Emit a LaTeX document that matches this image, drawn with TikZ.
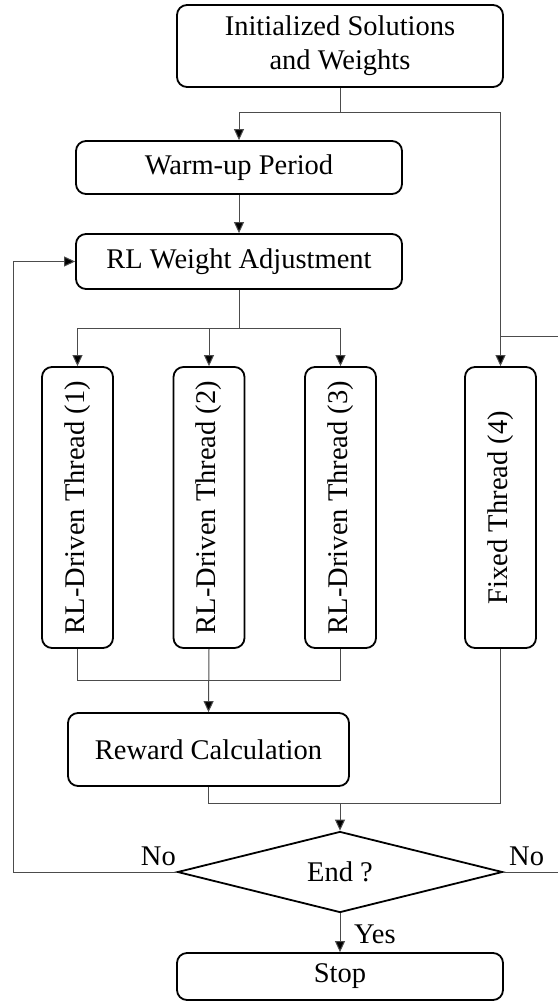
\documentclass[tikz,border=0pt]{standalone}
\usepackage{fontspec}
\setmainfont{Liberation Serif}
\usetikzlibrary{arrows.meta,shapes.geometric}

\tikzset{
  x=1pt, y=-1pt,
  box/.style={draw=black, line width=1.8pt, rounded corners=10pt, fill=white,
    inner sep=0pt, align=center, font=\fontsize{28.5}{34}\selectfont},
  vbox/.style={box, minimum width=71pt, minimum height=281pt},
  decision/.style={diamond, draw=black, line width=1.8pt, aspect=4, inner sep=0pt,
    minimum width=325pt, minimum height=81pt, font=\fontsize{28.5}{34}\selectfont},
  link/.style={draw=black!70, line width=1pt},
  flow/.style={link, -{Triangle[length=11pt,width=10pt,fill=black]}},
  lbl/.style={inner sep=0pt, font=\fontsize{28.5}{34}\selectfont}
}

\begin{document}
\begin{tikzpicture}
\useasboundingbox (0,0) rectangle (557,1003);

% process boxes
\node[box, minimum width=326pt, minimum height=82pt] (init) at (340,46)
  {Initialized Solutions\\and Weights};
\node[box, minimum width=326pt, minimum height=53pt] (warm) at (239,167.5) {Warm-up Period};
\node[box, minimum width=326pt, minimum height=55pt] (rl) at (239,261.5) {RL Weight Adjustment};

\node[vbox] (t1) at (77.5,507.5) {\rotatebox{90}{RL-Driven Thread (1)}};
\node[vbox] (t2) at (209,507.5) {\rotatebox{90}{RL-Driven Thread (2)}};
\node[vbox] (t3) at (340.5,507.5) {\rotatebox{90}{RL-Driven Thread (3)}};
\node[vbox] (t4) at (500.5,507.5) {\rotatebox{90}{Fixed Thread (4)}};

\node[box, minimum width=281pt, minimum height=73pt] (rew) at (208.5,749.5) {Reward Calculation};
\node[decision] (end) at (340,872) {End ?};
\node[box, minimum width=326pt, minimum height=47pt] (stop) at (340,976.5) {Stop};

% junction points
\coordinate (jtop) at (340,113);
\coordinate (jsplit) at (239,328);
\coordinate (jjoin) at (209,680);
\coordinate (jend) at (340,803);
\coordinate (jright) at (500.5,336);
\coordinate (farL) at (13,872);
\coordinate (farR) at (560,872);

% initial split
\draw[link] (init.south) -- (jtop);
\draw[flow] (jtop) -| (warm.north);
\draw[flow] (jtop) -| (t4.north);
\draw[flow] (warm.south) -- (rl.north);

% fan out to the RL-driven threads
\draw[link] (rl.south) -- (jsplit);
\draw[flow] (jsplit) -| (t1.north);
\draw[flow] (jsplit) -| (t3.north);
\draw[flow] (t2.north |- jsplit) -- (t2.north);

% gather results
\draw[link] (t1.south) |- (jjoin);
\draw[link] (t3.south) |- (jjoin);
\draw[flow] (t2.south) -- (rew.north);

\draw[link] (rew.south) |- (jend);
\draw[link] (t4.south) |- (jend);
\draw[flow] (jend) -- (end.north);

% loops back
\draw[flow] (end.west) -- (farL) |- (rl.west);
\draw[link] (end.east) -- (farR) |- (jright);
\draw[flow] (end.south) -- (stop.north);

% branch labels
\node[lbl, anchor=base east] (noL) at (176,865) {No};
\node[lbl, anchor=base west] (noR) at (509,865) {No};
\node[lbl, anchor=base west] (yes) at (354,943) {Yes};
\end{tikzpicture}
\end{document}
